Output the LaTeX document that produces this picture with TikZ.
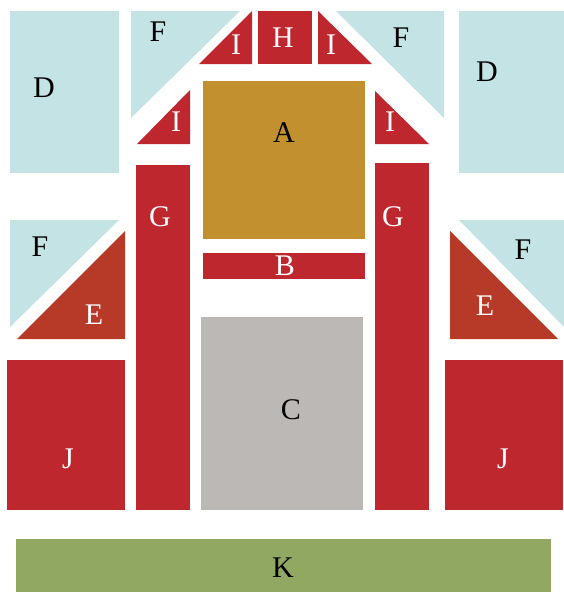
\documentclass[tikz,border=0pt]{standalone}
\usepackage{fontspec}
\setmainfont{Liberation Serif}
\definecolor{cblue}{RGB}{195,227,229}
\definecolor{cred}{RGB}{191,39,46}
\definecolor{cgold}{RGB}{195,144,47}
\definecolor{cgray}{RGB}{188,184,182}
\definecolor{cgreen}{RGB}{145,168,98}
\definecolor{cbrick}{RGB}{182,58,39}
\begin{document}
\begin{tikzpicture}[x=1pt,y=-1pt,
  lbl/.style={font=\fontsize{30}{30}\selectfont, inner sep=0pt, anchor=center},
  dark/.style={lbl, text=black},
  light/.style={lbl, text=white}]
\useasboundingbox (0,0) rectangle (564,592);
\fill[white] (0,0) rectangle (564,592);
% light blue
\fill[cblue] (10,11) rectangle (119,173);
\fill[cblue] (459,11) rectangle (564,173);
\fill[cblue] (131,11) -- (240,11) -- (131,118) -- cycle;
\fill[cblue] (336,11) -- (444,11) -- (444,118) -- cycle;
\fill[cblue] (10,220) -- (119,220) -- (10,327) -- cycle;
\fill[cblue] (459,220) -- (564,220) -- (564,327) -- cycle;
% red I and H
\fill[cred] (199,64) -- (252,11) -- (252,64) -- cycle;
\fill[cred] (258,11) rectangle (312,64);
\fill[cred] (318,11) -- (318,64) -- (372,64) -- cycle;
\fill[cred] (137,144) -- (190,90) -- (190,144) -- cycle;
\fill[cred] (375,91) -- (375,144) -- (429,144) -- cycle;
% A, B, C
\fill[cgold] (203,81) rectangle (365,239);
\fill[cred] (203,253) rectangle (365,279);
\fill[cgray] (201,317) rectangle (363,510);
% G
\fill[cred] (136,165) rectangle (190,510);
\fill[cred] (375,163) rectangle (429,510);
% E
\fill[cbrick] (125,231) -- (125,339) -- (17,339) -- cycle;
\fill[cbrick] (450,231) -- (450,339) -- (558,339) -- cycle;
% J
\fill[cred] (7,360) rectangle (125,510);
\fill[cred] (445,360) rectangle (563,510);
% K
\fill[cgreen] (16,539) rectangle (551,592);
% labels
\node[dark] (dl) at (44,88) {D};
\node[dark] (dr) at (487,72) {D};
\node[dark] (ftl) at (158,32) {F};
\node[dark] (ftr) at (401,38) {F};
\node[light] (itl) at (236,45) {I};
\node[light] (h) at (283,38) {H};
\node[light] (itr) at (331,45) {I};
\node[light] (iml) at (176,122) {I};
\node[light] (imr) at (390,122) {I};
\node[dark] (a) at (284,133) {A};
\node[light] (gl) at (160,217) {G};
\node[light] (gr) at (393,217) {G};
\node[dark] (fml) at (40,247) {F};
\node[dark] (fmr) at (523,250) {F};
\node[light] (el) at (94,315) {E};
\node[light] (er) at (485,306) {E};
\node[light] (b) at (285,266) {B};
\node[dark] (c) at (291,410) {C};
\node[light] (jl) at (68,459) {J};
\node[light] (jr) at (503,459) {J};
\node[dark] (k) at (283,568) {K};
\end{tikzpicture}
\end{document}
